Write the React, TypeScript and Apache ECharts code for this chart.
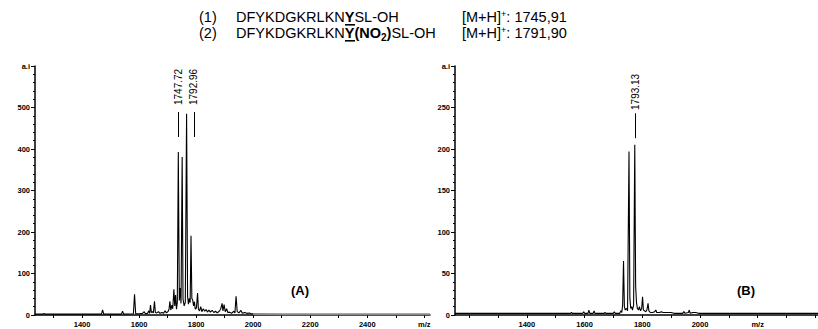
import React, { useEffect, useRef } from "react";
import * as echarts from "echarts";

// ---------- data ----------
const mzA = [1235, 1262, 1266, 1270, 1330, 1400, 1468, 1472, 1476, 1538, 1542, 1546, 1580, 1584, 1588, 1600, 1612, 1618, 1622, 1630, 1634, 1637, 1640, 1643, 1647, 1650, 1654, 1657, 1662, 1668, 1673, 1680, 1686, 1691, 1696, 1701, 1705, 1708, 1711, 1715, 1718, 1722, 1725, 1728, 1731, 1734, 1737.5, 1741, 1744, 1747, 1751, 1754, 1758, 1762, 1766.5, 1770, 1773, 1776, 1779, 1782, 1785, 1788, 1791, 1794, 1797, 1801, 1805, 1808, 1812, 1816, 1820, 1825, 1830, 1835, 1840, 1845, 1850, 1856, 1862, 1868, 1874, 1881, 1886, 1891, 1894, 1898, 1902, 1907, 1911, 1917, 1924, 1932, 1936, 1940, 1944, 1950, 1957, 1962, 1970, 1978, 1986, 1994, 2000];
const intA = [2, 2, 4, 2, 2, 2, 2, 12, 2, 2, 9, 2, 3, 50, 3, 3, 4, 8, 3, 4, 10, 4, 24, 6, 8, 5, 33, 6, 5, 8, 4, 6, 4, 10, 5, 8, 14, 33, 12, 24, 15, 62, 22, 48, 14, 30, 393, 35, 65, 28, 381, 38, 22, 30, 485, 45, 26, 40, 30, 191, 40, 36, 22, 32, 14, 17, 53, 14, 10, 20, 8, 15, 9, 13, 7, 12, 7, 11, 6, 9, 5, 9, 14, 28, 10, 25, 8, 15, 6, 7, 4, 9, 5, 45, 8, 5, 11, 4, 6, 4, 5, 3, 3];
const tailMzA = [2000, 2100, 2200, 2300, 2400, 2500, 2620];
const tailIntA = [2.5, 2, 2, 2, 2, 2, 2];

const mzB = [1151, 1300, 1450, 1552, 1555, 1558, 1594, 1597, 1600, 1612, 1615, 1618, 1630, 1633, 1636, 1668, 1671, 1674, 1700, 1703, 1706, 1722, 1726, 1729, 1732, 1735, 1738, 1741, 1745, 1749, 1754, 1757, 1760, 1763, 1766, 1770, 1774, 1777, 1780, 1783, 1787, 1790, 1794, 1798, 1801, 1804, 1808, 1812, 1816, 1820, 1823, 1828, 1836, 1843, 1847, 1850, 1860, 1866, 1872, 1880, 1890, 1900, 1910, 1940, 1944, 1948, 1960, 1963, 1966, 1975, 1985, 1995, 2100, 2409];
const intB = [2, 2, 2, 2, 3, 2, 2, 4, 2, 2, 6, 2, 2, 5, 2, 2, 3, 2, 2, 4, 2, 2, 5, 3, 12, 65, 10, 6, 8, 5, 197, 20, 8, 10, 6, 12, 205, 35, 15, 8, 6, 10, 5, 8, 22, 6, 5, 4, 6, 14, 5, 3, 3, 4, 6, 3, 3, 4, 3, 3, 3, 3, 2, 2, 4, 2, 3, 6, 2, 3, 3, 2, 2, 2];

const xTicksA = [1300, 1400, 1500, 1600, 1700, 1800, 1900, 2000, 2100, 2200, 2300, 2400, 2500, 2600];
const xLabelsA = [1400, 1600, 1800, 2000, 2200, 2400, 2600];
const xTicksB = [1200, 1300, 1400, 1500, 1600, 1700, 1800, 1900, 2000, 2100, 2200, 2300, 2400];
const xLabelsB = [1400, 1600, 1800, 2000, 2200];

const peakLabelsA = ["1747.72", "1792.96"];
const peakMzA = [1738, 1792];
const peakLineA = [429, 489];
const peakTextA = 506;
const peakLabelsB = ["1793.13"];
const peakMzB = [1776];
const peakLineB = [213, 243];
const peakTextB = 247;

const FONT = "Liberation Sans";

function pairs(xs: number[], ys: number[]) {
  return xs.map((x, i) => [x, ys[i]]);
}

function xAxis(gridIndex: number, min: number, max: number, ticks: number[], labels: number[], mzAt: number) {
  return {
    type: "value",
    gridIndex,
    min,
    max,
    axisLine: { show: true, onZero: false, lineStyle: { color: "#000", width: 1.5 } },
    axisTick: { show: true, customValues: ticks, length: 3, lineStyle: { color: "#000" } },
    axisLabel: {
      show: true,
      customValues: labels,
      margin: 5,
      color: "#000",
      fontFamily: FONT,
      fontWeight: "bold",
      fontSize: 7.5,
      formatter: (v: number) => (v === mzAt ? "m/z" : String(v)),
    },
    splitLine: { show: false },
  };
}

function yAxis(gridIndex: number, max: number, interval: number) {
  return {
    type: "value",
    gridIndex,
    min: 0,
    max,
    interval,
    axisLine: { show: true, lineStyle: { color: "#000", width: 1.5 } },
    axisTick: { show: true, length: 4, lineStyle: { color: "#000" } },
    minorTick: { show: true, splitNumber: 5, length: 2, lineStyle: { color: "#000" } },
    axisLabel: {
      margin: 5,
      color: "#000",
      fontFamily: FONT,
      fontWeight: "bold",
      fontSize: 7.5,
      formatter: (v: number) => (v === max ? "a.i" : String(v)),
    },
    splitLine: { show: false },
  };
}

function markLines(mzs: number[], range: number[]) {
  return {
    silent: true,
    symbol: "none",
    label: { show: false },
    lineStyle: { color: "#000", width: 1, type: "solid" },
    data: mzs.map((m) => [{ coord: [m, range[0]] }, { coord: [m, range[1]] }]),
  };
}

export default function App() {
  const ref = useRef<HTMLDivElement>(null);
  useEffect(() => {
    const chart = echarts.init(ref.current!, null, { renderer: "svg" });
    chart.setOption({
      animation: false,
      backgroundColor: "#fff",
      grid: [
        { left: 35, top: 66, width: 395, height: 249 },
        { left: 455, top: 66, width: 363, height: 249 },
      ],
      xAxis: [
        xAxis(0, 1235, 2620, xTicksA, xLabelsA, 2600),
        xAxis(1, 1151, 2409, xTicksB, xLabelsB, 2200),
      ],
      yAxis: [yAxis(0, 600, 100), yAxis(1, 300, 50)],
      series: [
        {
          type: "line",
          xAxisIndex: 0,
          yAxisIndex: 0,
          data: pairs(mzA, intA),
          showSymbol: false,
          lineStyle: { color: "#000", width: 1.1 },
          markLine: markLines(peakMzA, peakLineA),
        },
        {
          type: "line",
          xAxisIndex: 0,
          yAxisIndex: 0,
          data: pairs(tailMzA, tailIntA),
          showSymbol: false,
          lineStyle: { color: "#8a8a8a", width: 2 },
        },
        {
          type: "line",
          xAxisIndex: 1,
          yAxisIndex: 1,
          data: pairs(mzB, intB),
          showSymbol: false,
          lineStyle: { color: "#000", width: 1.1 },
          markLine: markLines(peakMzB, peakLineB),
        },
      ],
    });

    const peakTexts: any[] = [];
    const addPeakText = (grid: number, mz: number, v: number, t: string) => {
      const p = chart.convertToPixel({ gridIndex: grid }, [mz, v]) as number[];
      peakTexts.push({
        type: "text",
        x: p[0],
        y: p[1],
        rotation: Math.PI / 2,
        style: { text: t, fontFamily: FONT, fontSize: 10, fill: "#000", align: "left", verticalAlign: "middle" },
      });
    };
    peakLabelsA.forEach((t, i) => addPeakText(0, peakMzA[i], peakTextA, t));
    peakLabelsB.forEach((t, i) => addPeakText(1, peakMzB[i], peakTextB, t));

    const rich = {
      n: { fontFamily: FONT, fontSize: 14.5, fill: "#000" },
      b: { fontFamily: FONT, fontSize: 14.5, fontWeight: "bold", fill: "#000" },
      bs: { fontFamily: FONT, fontSize: 10, fontWeight: "bold", fill: "#000", verticalAlign: "bottom", padding: [8, 0, 0, 0] },
      sup: { fontFamily: FONT, fontSize: 9, fill: "#000", padding: [0, 0, 7, 0] },
    };
    const txt = (x: number, y: number, text: string) => ({
      type: "text",
      x,
      y,
      style: { text, rich, fontFamily: FONT, fontSize: 14.5, fill: "#000", align: "left", verticalAlign: "middle" },
    });

    chart.setOption({
      graphic: [
        txt(199, 17, "{n|(1)}"),
        txt(236, 17, "{n|DFYKDGKRLKN}{b|Y}{n|SL-OH}"),
        { type: "rect", shape: { x: 345, y: 24, width: 10, height: 1.6 }, style: { fill: "#000" } },
        txt(462, 17, "{n|[M+H]}{sup|+}{n|: 1745,91}"),
        txt(199, 33, "{n|(2)}"),
        txt(236, 33, "{n|DFYKDGKRLKN}{b|Y(NO}{bs|2}{b|)}{n|SL-OH}"),
        { type: "rect", shape: { x: 345, y: 40, width: 10, height: 1.6 }, style: { fill: "#000" } },
        txt(462, 33, "{n|[M+H]}{sup|+}{n|: 1791,90}"),
        {
          type: "text",
          x: 300,
          y: 290,
          style: { text: "(A)", fontFamily: FONT, fontSize: 13, fontWeight: "bold", fill: "#000", align: "center", verticalAlign: "middle" },
        },
        {
          type: "text",
          x: 746,
          y: 290,
          style: { text: "(B)", fontFamily: FONT, fontSize: 13, fontWeight: "bold", fill: "#000", align: "center", verticalAlign: "middle" },
        },
        ...peakTexts,
      ],
    });
    return () => chart.dispose();
  }, []);
  return (
    <div
      ref={ref}
      style={{ position: "fixed", left: 0, top: 0, width: 818, height: 329, background: "#fff" }}
    />
  );
}
